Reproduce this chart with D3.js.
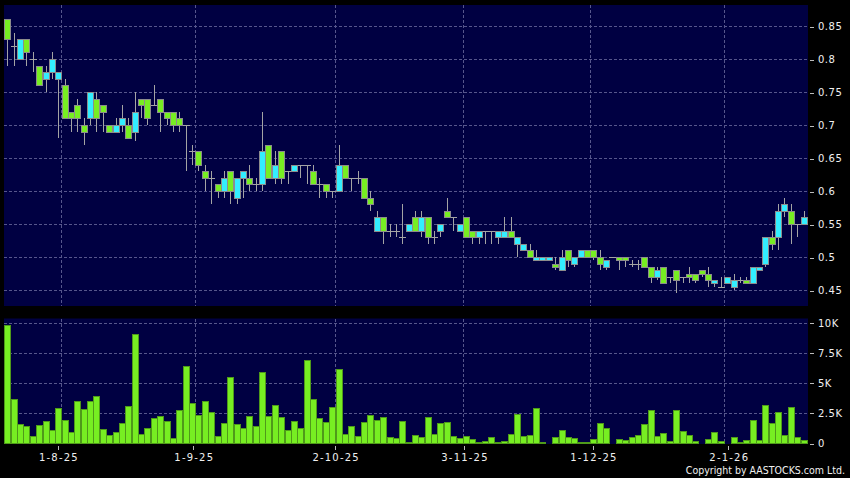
<!DOCTYPE html>
<html>
<head>
<meta charset="utf-8">
<script src="https://cdn.jsdelivr.net/npm/d3@7"></script>
<style>
  html, body { margin: 0; padding: 0; background: #000; }
  svg { display: block; }
  text { font-family: "DejaVu Sans", sans-serif; }
</style>
</head>
<body>
<svg id="chart" width="850" height="478"></svg>
<script>
// ---------------- DATA ----------------
const openP = [
  0.86,0.82,0.80,0.83,0.80,0.79,0.77,0.78,0.77,0.76,
  0.72,0.73,0.70,0.71,0.74,0.73,0.70,0.69,0.70,0.70,
  0.69,0.74,0.74,0.73,0.74,0.72,0.72,0.71,0.70,0.66,
  0.66,0.63,0.62,0.61,0.60,0.63,0.59,0.62,0.62,0.61,
  0.61,0.67,0.62,0.66,0.63,0.63,0.64,0.64,0.63,0.61,
  0.61,0.60,0.60,0.64,0.62,0.62,0.62,0.59,0.54,0.56,
  0.54,0.54,0.53,0.54,0.56,0.54,0.56,0.53,0.54,0.57,
  0.56,0.54,0.56,0.54,0.53,0.54,0.54,0.53,0.53,0.54,
  0.52,0.51,0.51,0.495,0.495,0.495,0.49,0.48,0.51,0.49,
  0.50,0.51,0.51,0.50,0.485,0.50,0.50,0.50,0.49,0.49,
  0.50,0.485,0.47,0.485,0.47,0.48,0.47,0.475,0.475,0.48,
  0.475,0.46,0.455,0.46,0.455,0.465,0.465,0.46,0.48,0.49,
  0.53,0.53,0.57,0.57,0.55,0.55
];
const highP = [
  0.86,0.84,0.83,0.83,0.81,0.79,0.79,0.81,0.78,0.77,
  0.72,0.74,0.71,0.75,0.75,0.73,0.70,0.71,0.73,0.71,
  0.75,0.74,0.74,0.76,0.74,0.72,0.72,0.72,0.70,0.67,
  0.66,0.64,0.63,0.61,0.63,0.63,0.62,0.63,0.64,0.62,
  0.72,0.67,0.66,0.66,0.63,0.64,0.64,0.64,0.64,0.62,
  0.61,0.60,0.67,0.64,0.62,0.63,0.62,0.60,0.57,0.56,
  0.55,0.55,0.58,0.55,0.57,0.57,0.56,0.54,0.55,0.59,
  0.56,0.55,0.56,0.54,0.54,0.54,0.54,0.54,0.56,0.56,
  0.53,0.52,0.52,0.51,0.50,0.50,0.50,0.51,0.51,0.50,
  0.51,0.51,0.51,0.51,0.495,0.50,0.50,0.50,0.495,0.495,
  0.50,0.485,0.485,0.485,0.47,0.48,0.47,0.485,0.475,0.48,
  0.485,0.465,0.47,0.47,0.475,0.47,0.47,0.485,0.485,0.53,
  0.54,0.58,0.59,0.58,0.55,0.57
];
const lowP = [
  0.79,0.79,0.80,0.79,0.78,0.76,0.75,0.77,0.68,0.71,
  0.69,0.69,0.67,0.70,0.69,0.69,0.69,0.69,0.69,0.68,
  0.675,0.71,0.70,0.73,0.69,0.70,0.69,0.69,0.63,0.64,
  0.63,0.60,0.58,0.59,0.59,0.58,0.58,0.59,0.60,0.60,
  0.60,0.62,0.61,0.61,0.61,0.63,0.62,0.61,0.61,0.59,
  0.59,0.59,0.60,0.62,0.60,0.61,0.59,0.57,0.54,0.52,
  0.53,0.53,0.52,0.54,0.54,0.53,0.52,0.52,0.53,0.56,
  0.54,0.54,0.53,0.52,0.52,0.52,0.52,0.52,0.53,0.53,
  0.50,0.51,0.50,0.495,0.495,0.495,0.48,0.48,0.485,0.485,
  0.50,0.50,0.495,0.48,0.48,0.50,0.48,0.485,0.485,0.48,
  0.485,0.46,0.465,0.46,0.46,0.445,0.46,0.46,0.46,0.47,
  0.455,0.455,0.455,0.46,0.45,0.46,0.46,0.46,0.48,0.485,
  0.51,0.51,0.56,0.52,0.53,0.55
];
const closeP = [
  0.83,0.82,0.83,0.81,0.80,0.76,0.78,0.80,0.78,0.71,
  0.71,0.71,0.69,0.75,0.71,0.72,0.69,0.70,0.71,0.68,
  0.72,0.73,0.71,0.73,0.72,0.71,0.70,0.70,0.70,0.66,
  0.64,0.62,0.62,0.60,0.62,0.60,0.62,0.63,0.61,0.61,
  0.66,0.62,0.64,0.62,0.63,0.64,0.64,0.64,0.61,0.61,
  0.60,0.60,0.64,0.62,0.62,0.62,0.59,0.58,0.56,0.54,
  0.54,0.54,0.53,0.55,0.54,0.56,0.53,0.53,0.55,0.56,
  0.56,0.55,0.53,0.53,0.54,0.54,0.54,0.54,0.54,0.53,
  0.53,0.52,0.50,0.50,0.50,0.50,0.485,0.50,0.495,0.50,
  0.51,0.50,0.50,0.49,0.495,0.50,0.495,0.495,0.49,0.49,
  0.485,0.47,0.48,0.46,0.47,0.465,0.47,0.47,0.465,0.475,
  0.465,0.465,0.455,0.47,0.465,0.465,0.46,0.485,0.485,0.53,
  0.52,0.57,0.58,0.55,0.55,0.56
];
// volume in thousands of shares
const volumeK = [
  9.8,3.66,1.58,1.44,0.58,1.5,1.83,1.1,2.88,1.9,
  0.91,3.46,2.83,3.46,3.88,1.16,0.69,0.89,1.63,3.1,
  9.06,0.75,1.27,2.05,2.27,1.86,0.42,2.74,6.37,3.35,
  2.33,3.46,2.6,0.61,1.66,5.48,1.58,1.27,2.24,1.41,
  5.9,2.24,3.13,2.19,1.08,1.86,1.22,6.87,3.63,2.08,
  1.77,3.02,6.18,0.78,1.41,0.58,1.77,2.35,1.88,2.16,
  0.47,0.42,1.86,0.06,0.64,0.47,2.16,0.72,1.63,1.75,
  0.58,0.42,0.55,0.33,0.08,0.17,0.5,0.08,0.17,0.72,
  2.44,0.61,0.66,2.94,0.11,0.03,0.5,1.05,0.5,0.42,
  0.08,0.08,0.33,1.63,1.25,0.02,0.33,0.22,0.5,0.64,
  1.6,2.77,0.61,0.86,0.17,2.71,1.0,0.69,0.17,0.02,
  0.33,0.89,0.19,0.03,0.5,0.06,0.28,1.88,0.22,3.16,
  1.66,2.58,0.66,2.96,0.47,0.22
];
const priceTicks = [0.45,0.5,0.55,0.6,0.65,0.7,0.75,0.8,0.85];
const priceTickLabels = ["0.45","0.5","0.55","0.6","0.65","0.7","0.75","0.8","0.85"];
const volTicks = [0,2.5,5,7.5,10];
const volTickLabels = ["0","2.5K","5K","7.5K","10K"];
const monthStartIdx = [9,30,52,72,92,113];
const monthLabels = ["1-8-25","1-9-25","2-10-25","3-11-25","1-12-25","2-1-26"];

// ---------------- STYLE ----------------
const C = {
  panel: "#000042",
  grid: "#56568c",
  up: "#33eeff",
  down: "#77ee22",
  wick: "#a4a4a4",
  bodyStroke: "#8c8c8c",
  vol: "#77ee22",
  volStroke: "#4f9a1a",
  text: "#f0f0f0"
};
const P = { x0: 4, x1: 808, top: 5, bottom: 306, vTop: 318.5, vBottom: 444 };

const n = closeP.length;
const svg = d3.select("#chart");
svg.append("rect").attr("width", 850).attr("height", 478).attr("fill", "#000");

// scales
const xi = d3.scaleLinear().domain([0, n - 1]).range([7.3, 803.6]);
const xLab = d3.scaleLinear().domain([-0.5, n - 0.5]).range([-0.7, 811.5]);
const yP = d3.scaleLinear().domain([0.45, 0.85]).range([290, 26]);
const yV = d3.scaleLinear().domain([0, 10]).range([443, 322.7]);
const cx = i => Math.round(xi(i)) + 0.5;

// panels
svg.append("rect").attr("x", P.x0).attr("y", P.top).attr("width", P.x1 - P.x0).attr("height", P.bottom - P.top).attr("fill", C.panel);
svg.append("rect").attr("x", P.x0).attr("y", P.vTop).attr("width", P.x1 - P.x0).attr("height", P.vBottom - P.vTop).attr("fill", C.panel);

// grids
const grid = svg.append("g").attr("stroke", C.grid).attr("stroke-width", 1).attr("stroke-dasharray", "3,2").attr("shape-rendering", "crispEdges");
grid.selectAll(".hp").data(priceTicks).join("line")
  .attr("x1", P.x0).attr("x2", P.x1)
  .attr("y1", d => Math.round(yP(d)) + 0.5).attr("y2", d => Math.round(yP(d)) + 0.5);
grid.selectAll(".hv").data(volTicks.filter(d => d > 0)).join("line")
  .attr("x1", P.x0).attr("x2", P.x1)
  .attr("y1", d => Math.round(yV(d)) + 0.5).attr("y2", d => Math.round(yV(d)) + 0.5);
monthStartIdx.forEach(k => {
  const x = Math.round(xi(k - 0.5)) + 0.5;
  grid.append("line").attr("x1", x).attr("x2", x).attr("y1", P.top).attr("y2", P.bottom);
  grid.append("line").attr("x1", x).attr("x2", x).attr("y1", P.vTop).attr("y2", P.vBottom);
});

// candles
const idx = d3.range(n);
const cg = svg.append("g").attr("shape-rendering", "crispEdges");
cg.selectAll(".wick").data(idx).join("line")
  .attr("x1", cx).attr("x2", cx)
  .attr("y1", i => Math.round(yP(highP[i]))).attr("y2", i => Math.round(yP(lowP[i])))
  .attr("stroke", C.wick).attr("stroke-width", 1);
const doji = idx.filter(i => openP[i] === closeP[i]);
const bodies = idx.filter(i => openP[i] !== closeP[i]);
cg.selectAll(".doji").data(doji).join("line")
  .attr("x1", i => cx(i) - 3.5).attr("x2", i => cx(i) + 3.5)
  .attr("y1", i => Math.round(yP(closeP[i])) + 0.5).attr("y2", i => Math.round(yP(closeP[i])) + 0.5)
  .attr("stroke", C.wick).attr("stroke-width", 1);
cg.selectAll(".body").data(bodies).join("rect")
  .attr("x", i => cx(i) - 3)
  .attr("width", 6)
  .attr("y", i => Math.round(yP(Math.max(openP[i], closeP[i]))) + 0.5)
  .attr("height", i => Math.max(1, Math.round(yP(Math.min(openP[i], closeP[i]))) - Math.round(yP(Math.max(openP[i], closeP[i])))))
  .attr("fill", i => closeP[i] > openP[i] ? C.up : C.down)
  .attr("stroke", C.bodyStroke).attr("stroke-width", 1);

// volume
svg.append("g").attr("shape-rendering", "crispEdges")
  .selectAll("rect").data(idx).join("rect")
  .attr("x", i => cx(i) - 3)
  .attr("width", 6)
  .attr("y", i => Math.round(yV(volumeK[i])) + 0.5)
  .attr("height", i => Math.max(0, 443 - Math.round(yV(volumeK[i]))))
  .attr("fill", C.vol).attr("stroke", C.volStroke).attr("stroke-width", 1);

// axes
function styleAxis(g) {
  g.select(".domain").remove();
  g.selectAll(".tick line").attr("stroke", "#bbbbbb").attr("shape-rendering", "crispEdges");
  g.selectAll(".tick text").attr("fill", C.text).attr("font-family", "DejaVu Sans, sans-serif").attr("font-size", 10);
}
svg.append("g").attr("transform", "translate(810,0.5)")
  .call(d3.axisRight(yP).tickValues(priceTicks).tickFormat((d, i) => priceTickLabels[i]).tickSize(4).tickPadding(4))
  .call(styleAxis)
  .call(g => g.selectAll(".tick text").attr("letter-spacing", "0.5px"));
svg.append("g").attr("transform", "translate(810,0.5)")
  .call(d3.axisRight(yV).tickValues(volTicks).tickFormat((d, i) => volTickLabels[i]).tickSize(4).tickPadding(4))
  .call(styleAxis)
  .call(g => g.selectAll(".tick text").attr("letter-spacing", "0.5px"));
svg.append("g").attr("transform", "translate(0.5,446)")
  .call(d3.axisBottom(xLab).tickValues(monthStartIdx.map(k => k - 0.5)).tickFormat((d, i) => monthLabels[i]).tickSize(4).tickPadding(4))
  .call(styleAxis)
  .call(g => g.selectAll(".tick text").attr("letter-spacing", "1.2px").attr("dx", "0.6px"));

// copyright (horizontally condensed)
svg.append("text")
  .attr("transform", "translate(845,473.5) scale(0.86,1)")
  .attr("text-anchor", "end")
  .attr("fill", C.text)
  .attr("font-family", "DejaVu Sans, sans-serif")
  .attr("font-size", 11)
  .text("Copyright by AASTOCKS.com Ltd.");
</script>
</body>
</html>
